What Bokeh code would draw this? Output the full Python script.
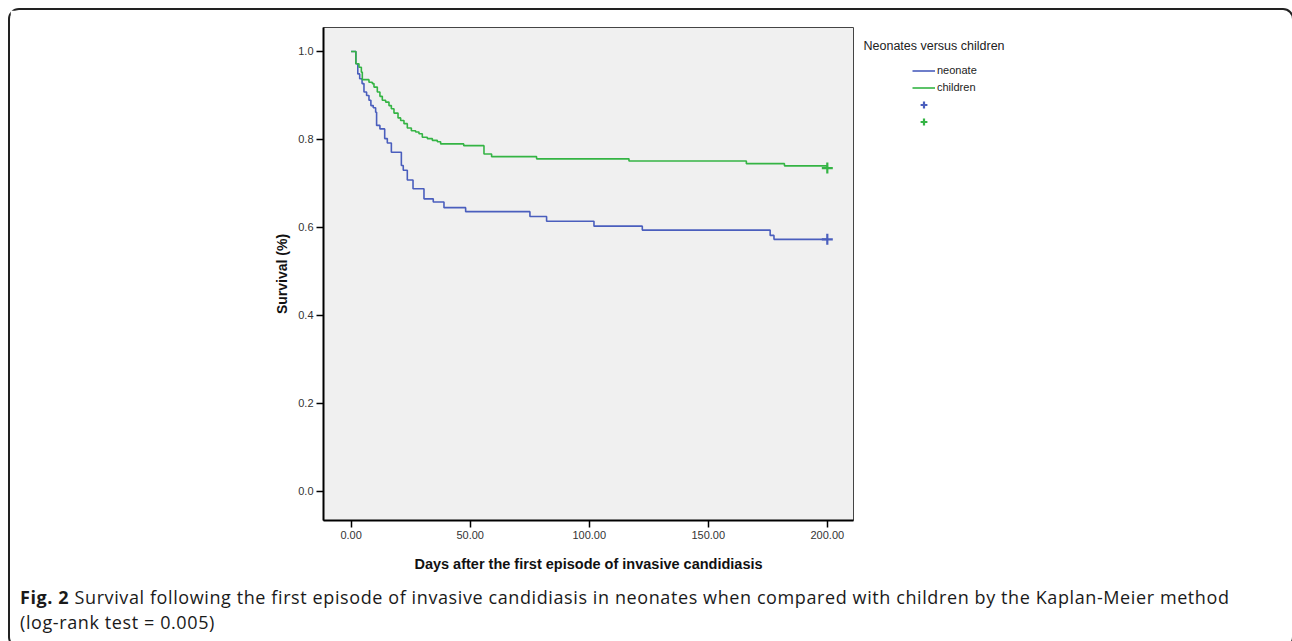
from bokeh.plotting import figure
from bokeh.models import (Range1d, FixedTicker, NumeralTickFormatter,
                          Legend, LegendItem, Div, Label)
from bokeh.layouts import column, row
from bokeh.embed import file_html
from bokeh.resources import INLINE

# ---------------- data ----------------
neonate_days = [0, 2.0, 2.8, 3.6, 4.6, 5.4, 6.5, 7.5, 8.3, 9.3, 10.3, 10.7,
                12.1, 14.1, 15.2, 16.9, 21.1, 21.9, 23.6, 26.0, 30.6, 34.5,
                39.0, 48.1, 75.1, 82.1, 102.0, 122.3, 176.0, 177.6, 200.0]
neonate_surv = [1.0, 0.972, 0.949, 0.938, 0.927, 0.908, 0.900, 0.889, 0.877,
                0.872, 0.862, 0.832, 0.824, 0.802, 0.792, 0.771, 0.741, 0.730,
                0.708, 0.688, 0.665, 0.658, 0.645, 0.636, 0.625, 0.614, 0.603,
                0.594, 0.582, 0.573, 0.573]

children_days = [0, 2.0, 3.3, 4.3, 4.7, 7.5, 8.9, 9.6, 11.0, 12.1, 13.1, 14.5,
                 15.9, 16.9, 18.0, 19.7, 20.8, 22.2, 23.6, 25.3, 27.1, 28.5,
                 29.9, 32.0, 34.1, 36.2, 37.6, 47.3, 55.8, 59.0, 77.9, 116.7,
                 166.0, 182.0, 200.0]
children_surv = [1.0, 0.972, 0.964, 0.953, 0.936, 0.930, 0.927, 0.919, 0.908,
                 0.898, 0.889, 0.885, 0.877, 0.870, 0.860, 0.849, 0.843, 0.836,
                 0.826, 0.820, 0.817, 0.813, 0.805, 0.802, 0.798, 0.795, 0.790,
                 0.786, 0.767, 0.761, 0.756, 0.751, 0.745, 0.740, 0.735]

neonate_censor_day = [200.0]
neonate_censor_surv = [0.573]
children_censor_day = [200.0]
children_censor_surv = [0.735]

x_ticks = [0, 50, 100, 150, 200]
y_ticks = [0.0, 0.2, 0.4, 0.6, 0.8, 1.0]

legend_title = "Neonates versus children"
series_labels = ["neonate", "children"]
x_label = "Days after the first episode of invasive candidiasis"
y_label = "Survival (%)"
caption_bold = "Fig. 2"
caption_line1 = "Survival following the first episode of invasive candidiasis in neonates when compared with children by the Kaplan-Meier method"
caption_line2 = "(log-rank test = 0.005)"

BLUE = "#4a5ebd"
GREEN = "#34b444"

# ---------------- geometry (page pixels) ----------------
BORDER = 2
MARGIN = 8
ORIGIN_X = ORIGIN_Y = MARGIN + BORDER
W, HP, HC = 1272, 570, 56
PL, PR, PT, PB = 323, 853, 27, 520
WP = 850                 # width of the chart figure
WL = W - WP              # width of the legend figure
X0, X1 = -11.6, 211.0
Y0, Y1 = -0.066, 1.0545

p = figure(width=WP, height=HP, output_backend="svg", toolbar_location=None,
           x_range=Range1d(X0, X1), y_range=Range1d(Y0, Y1),
           min_border_left=PL - ORIGIN_X,
           min_border_right=ORIGIN_X + WP - PR,
           min_border_top=PT - ORIGIN_Y, min_border_bottom=ORIGIN_Y + HP - PB)

p.background_fill_color = "#f0f0f0"
p.border_fill_color = "white"
p.outline_line_color = "#444444"
p.outline_line_width = 1
p.xgrid.visible = False
p.ygrid.visible = False

for ax in (p.xaxis[0], p.yaxis[0]):
    ax.axis_line_color = "black"
    ax.axis_line_width = 2
    ax.major_tick_line_color = "black"
    ax.major_tick_line_width = 1.5
    ax.major_tick_out = 7
    ax.major_tick_in = 0
    ax.minor_tick_out = 0
    ax.minor_tick_in = 0
    ax.major_label_text_font = "Liberation Sans"
    ax.major_label_text_font_size = "11px"
    ax.major_label_text_color = "#333333"
    ax.axis_label_text_font = "Liberation Sans"
    ax.axis_label_text_font_style = "bold"
    ax.axis_label_text_color = "#111111"

p.xaxis.ticker = FixedTicker(ticks=x_ticks)
p.xaxis.formatter = NumeralTickFormatter(format="0.00")
p.yaxis.ticker = FixedTicker(ticks=y_ticks)
p.yaxis.formatter = NumeralTickFormatter(format="0.0")
p.xaxis.axis_label = x_label
p.yaxis.axis_label = y_label
p.xaxis.axis_label_text_font_size = "14.5px"
p.yaxis.axis_label_text_font_size = "14px"
p.xaxis.major_label_standoff = 3
p.yaxis.major_label_standoff = 3
p.xaxis.axis_label_standoff = 14
p.yaxis.axis_label_standoff = 5

p.step(neonate_days, neonate_surv, mode="after", line_color=BLUE,
       line_width=1.6)
p.step(children_days, children_surv, mode="after", line_color=GREEN,
       line_width=1.6)
p.scatter(neonate_censor_day, neonate_censor_surv, marker="cross",
          size=11, line_color=BLUE, line_width=2.2)
p.scatter(children_censor_day, children_censor_surv, marker="cross",
          size=11, line_color=GREEN, line_width=2.2)

# ---------------- legend panel (its own figure) ----------------
lf = figure(width=WL, height=HP, output_backend="svg", toolbar_location=None,
            x_range=Range1d(0, WL), y_range=Range1d(0, HP),
            min_border=0, min_border_top=0, min_border_bottom=0,
            min_border_left=0, min_border_right=0,
            x_axis_location=None, y_axis_location=None)
if lf.title is not None:
    lf.title.visible = False
lf.outline_line_color = None
lf.background_fill_color = "white"
lf.border_fill_color = "white"
lf.grid.visible = False
# the legend proxies carry the real series but on a range that lies off view
lf.extra_y_ranges = {"off": Range1d(5, 6)}
LX0 = ORIGIN_X + WP      # page x of the legend figure's left edge
LB = ORIGIN_Y + HP       # page y of its bottom edge

k_neo = lf.step(neonate_days, neonate_surv, mode="after", line_color=BLUE,
                line_width=1.6, y_range_name="off")
k_chi = lf.step(children_days, children_surv, mode="after", line_color=GREEN,
                line_width=1.6, y_range_name="off")
k_cneo = lf.scatter(neonate_censor_day, neonate_censor_surv, marker="cross",
                    line_color=BLUE, line_width=2.2, y_range_name="off")
k_cchi = lf.scatter(children_censor_day, children_censor_surv, marker="cross",
                    line_color=GREEN, line_width=2.2, y_range_name="off")

GH = 17
LEGEND_Y_FIX = 60        # measured offset of Bokeh's tuple placement
TITLE_Y_FIX = 11.5       # measured offset of the legend figure's frame
legend_top = 61.5
legend = Legend(items=[LegendItem(label=series_labels[0], renderers=[k_neo]),
                       LegendItem(label=series_labels[1], renderers=[k_chi]),
                       LegendItem(label=" ", renderers=[k_cneo]),
                       LegendItem(label=" ", renderers=[k_cchi])],
                location=(912 - LX0,
                          LB - (legend_top + 4 * GH) - LEGEND_Y_FIX),
                padding=0, margin=0,
                spacing=0, glyph_height=GH, glyph_width=23, label_height=GH,
                label_standoff=2, label_text_font="Liberation Sans",
                label_text_font_size="11px", label_text_color="#222222",
                border_line_color=None, background_fill_alpha=0)
lf.add_layout(legend, "center")
lf.add_layout(Label(x=863 - LX0, y=LB - 43 + TITLE_Y_FIX, text=legend_title,
                    text_font="Liberation Sans", text_font_size="12.5px",
                    text_color="#222222", text_baseline="middle",
                    text_align="left"))

caption = Div(
    text=f"<b>{caption_bold}</b> {caption_line1}<br>{caption_line2}",
    width=W, height=HC,
    styles={"font-family": "'Open Sans', sans-serif", "font-size": "18px",
            "letter-spacing": "0.6px",
            "line-height": "25px", "color": "#1a1a1a", "padding-left": "5px",
            "padding-top": "0px", "box-sizing": "border-box",
            "white-space": "nowrap"})

layout = column(row(p, lf, spacing=0), caption, spacing=0,
                styles={"border": f"{BORDER}px solid #222",
                        "border-radius": "11px",
                        "margin": f"{MARGIN}px 0 0 {MARGIN}px",
                        "background-color": "white"})

open("out.html", "w").write(file_html(layout, INLINE))
